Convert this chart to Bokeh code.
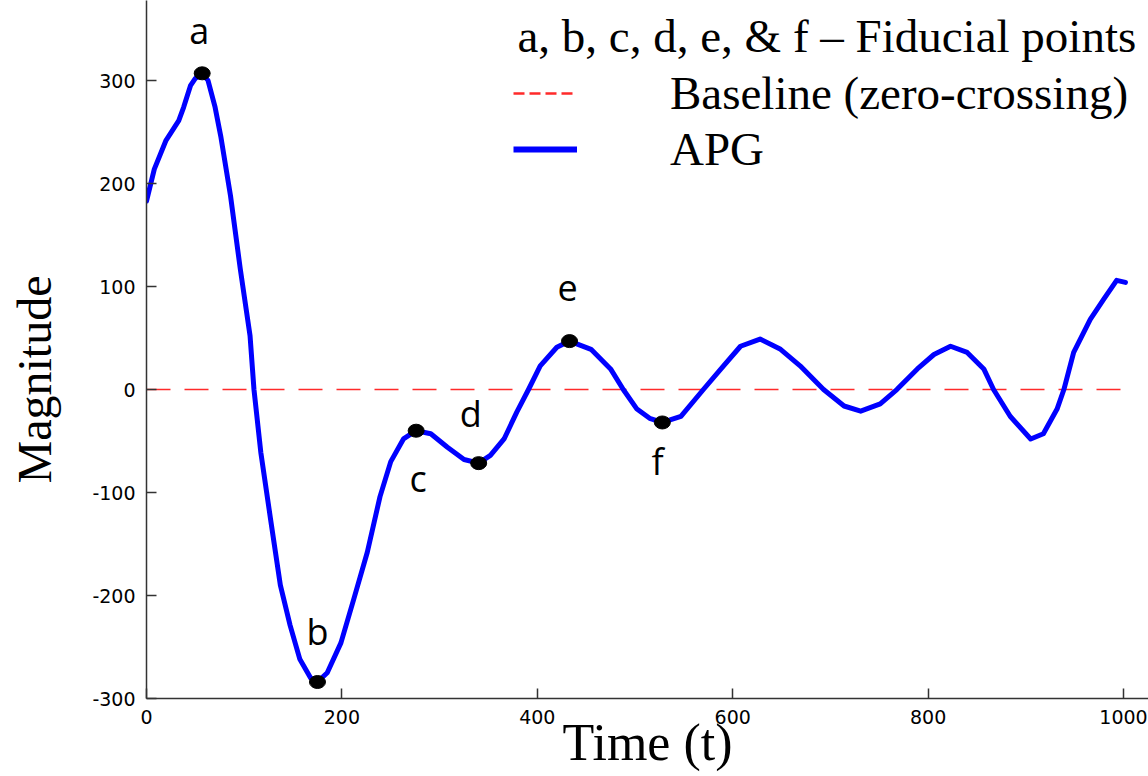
from bokeh.plotting import figure
from bokeh.models import Range1d, FixedTicker, Label, Legend, LegendItem
from bokeh.embed import file_html
from bokeh.resources import INLINE
from bokeh.core.properties import value

# APG waveform
time_t = [0, 8, 20, 33, 38, 45, 50, 57, 63, 70, 76, 86, 96, 106, 110, 117, 127, 137, 147, 157,
          168, 175, 185, 199, 212, 226, 239, 250, 263, 276, 291, 308, 325, 340, 352, 366, 379,
          391, 403, 420, 433, 455, 475, 488, 502, 515, 528, 547, 570, 588, 608, 628, 649, 669,
          693, 714, 731, 751, 768, 789, 806, 823, 840, 857, 867, 884, 905, 918, 932, 939, 949,
          966, 980, 993, 1002]
magnitude = [183, 214, 242, 261, 274, 295, 302, 307, 300, 275, 246, 188, 117, 52, 0, -61, -126,
             -190, -229, -262, -280, -284, -275, -246, -204, -158, -104, -70, -48, -40, -43, -56,
             -68, -71.5, -64, -48, -22, 0, 23, 41, 47, 39, 20, 0, -19, -28, -32, -26, 0, 20, 42,
             49, 39, 23, 0, -16, -21, -14, 0, 20, 34, 42, 36, 20, 0, -26, -48, -43, -19, 0, 36,
             68, 88, 106, 104]

# fiducial points
fid_names = ["a", "b", "c", "d", "e", "f"]
fid_x = [57, 175, 276, 340, 433, 528]
fid_y = [307, -284, -40, -71.5, 47, -32]
fid_label_x = [54, 175, 278, 332, 431, 523]
fid_label_y = [349, -235, -86, -23, 99, -70]

baseline_x = [0, 1000]
baseline_y = [0, 0]

x_ticks = [0, 200, 400, 600, 800, 1000]
y_ticks = [-300, -200, -100, 0, 100, 200, 300]

legend_title = "a, b, c, d, e, & f \u2013 Fiducial points"
legend_labels = ["Baseline (zero-crossing)", "APG"]
nan = float("nan")

p = figure(width=1148, height=776, output_backend="svg", toolbar_location=None,
           x_range=Range1d(0, 1025.6), y_range=Range1d(-300, 377.7),
           min_border_left=146, min_border_right=0, min_border_top=0, min_border_bottom=78)
p.outline_line_color = None
p.xgrid.visible = False
p.ygrid.visible = False
p.background_fill_color = "white"

for ax in (p.xaxis, p.yaxis):
    ax.axis_line_color = "#333333"
    ax.axis_line_width = 1.5
    ax.major_tick_line_color = "#333333"
    ax.major_tick_line_width = 1.5
    ax.major_tick_in = 10
    ax.major_tick_out = 0
    ax.minor_tick_line_color = None
    ax.major_label_text_font = "DejaVu Sans"
    ax.major_label_text_font_size = "19px"
    ax.major_label_text_color = "black"
    ax.axis_label_text_font = "Liberation Serif"
    ax.axis_label_text_font_style = "normal"
    ax.axis_label_text_color = "black"

p.xaxis.ticker = FixedTicker(ticks=x_ticks)
p.yaxis.ticker = FixedTicker(ticks=y_ticks)
p.yaxis.major_label_overrides = {t: str(t) for t in y_ticks}
p.xaxis.major_label_standoff = 11
p.yaxis.major_label_standoff = 11

# trailing no-break spaces move the rotated title down to where the reference has it
p.yaxis.axis_label = "Magnitude" + "\u00a0" * 5
p.yaxis.axis_label_text_font_size = "48px"
p.yaxis.axis_label_standoff = 28

p.xaxis.axis_label = "Time (t)"
p.xaxis.axis_label_text_font_size = "52px"
p.xaxis.axis_label_standoff = -13

# baseline and APG curve
p.line(baseline_x, baseline_y, line_color="#ff2a2a", line_width=1.5, line_dash="24 14")
p.line(time_t, magnitude, line_color="#0000ff", line_width=5, line_join="round", line_cap="round")
p.ellipse(x=fid_x, y=fid_y, width=16, height=13, width_units="screen", height_units="screen",
          fill_color="black", line_color="black")
p.text(x=fid_label_x, y=fid_label_y, text=fid_names, text_font=value("Open Sans"),
       text_font_size="36px", text_align="center", text_baseline="alphabetic", text_color="black")

# legend
p.add_layout(Label(x=371, y=663, x_units="screen", y_units="screen", text=legend_title,
                   text_font="Liberation Serif", text_font_size="47px", text_align="left",
                   text_baseline="alphabetic", text_color="black"))
leg_base = p.line(x=[nan], y=[nan], line_color="#ff2a2a", line_width=2.5, line_dash="11 5")
leg_apg = p.line(x=[nan], y=[nan], line_color="#0000ff", line_width=6)
legend = Legend(items=[LegendItem(label=legend_labels[0], renderers=[leg_base]),
                       LegendItem(label=legend_labels[1], renderers=[leg_apg])],
                location=(367, 522), padding=0, margin=0, spacing=2,
                glyph_width=64, glyph_height=20, label_height=52, label_standoff=93,
                label_text_font="Liberation Serif", label_text_font_size="47px",
                label_text_color="black", border_line_alpha=0, background_fill_alpha=0)
p.add_layout(legend)

open("out.html", "w").write(file_html(p, INLINE))
